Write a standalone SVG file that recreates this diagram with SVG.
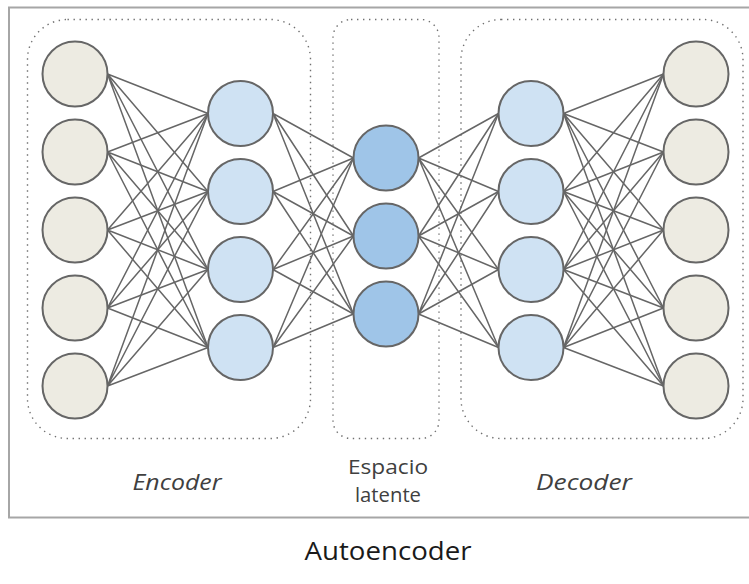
<svg xmlns="http://www.w3.org/2000/svg" width="749" height="584" viewBox="0 0 749 584">
  <style>
    .frame { fill: none; stroke: #a6a6a6; stroke-width: 2; }
    .group { fill: none; stroke: #707070; stroke-width: 1.4; stroke-dasharray: 1.4 4.6; }
    .edge { fill: none; stroke: #666; stroke-width: 1.5; }
    .node { stroke: #666; stroke-width: 2; }
    .io { fill: #edebe2; }
    .hidden { fill: #cfe2f3; }
    .latent { fill: #9fc5e8; }
    .label { font-family: "Open Sans", "Liberation Sans", sans-serif; fill: #404040; text-anchor: middle; }
  </style>

  <rect class="frame" x="9" y="7.5" width="760" height="510"/>

  <!-- dotted regions -->
  <rect class="group" x="27.5" y="19.5" width="283" height="419" rx="40"/>
  <rect class="group" x="333" y="19.5" width="106" height="419" rx="18"/>
  <rect class="group" x="461" y="19.5" width="282" height="419" rx="40"/>

  <g id="connectors">
    <path class="edge" d="M107.5 74L208 113.5M107.5 74L208 191.5M107.5 74L208 269.5M107.5 74L208 347.5"/>
    <path class="edge" d="M107.5 152L208 113.5M107.5 152L208 191.5M107.5 152L208 269.5M107.5 152L208 347.5"/>
    <path class="edge" d="M107.5 230L208 113.5M107.5 230L208 191.5M107.5 230L208 269.5M107.5 230L208 347.5"/>
    <path class="edge" d="M107.5 308L208 113.5M107.5 308L208 191.5M107.5 308L208 269.5M107.5 308L208 347.5"/>
    <path class="edge" d="M107.5 386L208 113.5M107.5 386L208 191.5M107.5 386L208 269.5M107.5 386L208 347.5"/>

    <path class="edge" d="M273 113.5L353.5 158M273 113.5L353.5 236M273 113.5L353.5 314"/>
    <path class="edge" d="M273 191.5L353.5 158M273 191.5L353.5 236M273 191.5L353.5 314"/>
    <path class="edge" d="M273 269.5L353.5 158M273 269.5L353.5 236M273 269.5L353.5 314"/>
    <path class="edge" d="M273 347.5L353.5 158M273 347.5L353.5 236M273 347.5L353.5 314"/>

    <path class="edge" d="M418.5 158L498.5 113.5M418.5 158L498.5 191.5M418.5 158L498.5 269.5M418.5 158L498.5 347.5"/>
    <path class="edge" d="M418.5 236L498.5 113.5M418.5 236L498.5 191.5M418.5 236L498.5 269.5M418.5 236L498.5 347.5"/>
    <path class="edge" d="M418.5 314L498.5 113.5M418.5 314L498.5 191.5M418.5 314L498.5 269.5M418.5 314L498.5 347.5"/>

    <path class="edge" d="M563.5 113.5L663.5 74M563.5 113.5L663.5 152M563.5 113.5L663.5 230M563.5 113.5L663.5 308M563.5 113.5L663.5 386"/>
    <path class="edge" d="M563.5 191.5L663.5 74M563.5 191.5L663.5 152M563.5 191.5L663.5 230M563.5 191.5L663.5 308M563.5 191.5L663.5 386"/>
    <path class="edge" d="M563.5 269.5L663.5 74M563.5 269.5L663.5 152M563.5 269.5L663.5 230M563.5 269.5L663.5 308M563.5 269.5L663.5 386"/>
    <path class="edge" d="M563.5 347.5L663.5 74M563.5 347.5L663.5 152M563.5 347.5L663.5 230M563.5 347.5L663.5 308M563.5 347.5L663.5 386"/>
  </g>

  <!-- input layer -->
  <g id="in1"><circle class="node io" cx="75" cy="74" r="32.5"/></g>
  <g id="in2"><circle class="node io" cx="75" cy="152" r="32.5"/></g>
  <g id="in3"><circle class="node io" cx="75" cy="230" r="32.5"/></g>
  <g id="in4"><circle class="node io" cx="75" cy="308" r="32.5"/></g>
  <g id="in5"><circle class="node io" cx="75" cy="386" r="32.5"/></g>

  <!-- encoder hidden layer -->
  <g id="enc1"><circle class="node hidden" cx="240.5" cy="113.5" r="32.5"/></g>
  <g id="enc2"><circle class="node hidden" cx="240.5" cy="191.5" r="32.5"/></g>
  <g id="enc3"><circle class="node hidden" cx="240.5" cy="269.5" r="32.5"/></g>
  <g id="enc4"><circle class="node hidden" cx="240.5" cy="347.5" r="32.5"/></g>

  <!-- latent space -->
  <g id="lat1"><circle class="node latent" cx="386" cy="158" r="32.5"/></g>
  <g id="lat2"><circle class="node latent" cx="386" cy="236" r="32.5"/></g>
  <g id="lat3"><circle class="node latent" cx="386" cy="314" r="32.5"/></g>

  <!-- decoder hidden layer -->
  <g id="dec1"><circle class="node hidden" cx="531" cy="113.5" r="32.5"/></g>
  <g id="dec2"><circle class="node hidden" cx="531" cy="191.5" r="32.5"/></g>
  <g id="dec3"><circle class="node hidden" cx="531" cy="269.5" r="32.5"/></g>
  <g id="dec4"><circle class="node hidden" cx="531" cy="347.5" r="32.5"/></g>

  <!-- output layer -->
  <g id="out1"><circle class="node io" cx="696" cy="74" r="32.5"/></g>
  <g id="out2"><circle class="node io" cx="696" cy="152" r="32.5"/></g>
  <g id="out3"><circle class="node io" cx="696" cy="230" r="32.5"/></g>
  <g id="out4"><circle class="node io" cx="696" cy="308" r="32.5"/></g>
  <g id="out5"><circle class="node io" cx="696" cy="386" r="32.5"/></g>

  <!-- labels -->
  <text class="label" x="177" y="490" font-size="21" font-style="italic" textLength="89" lengthAdjust="spacingAndGlyphs">Encoder</text>
  <text class="label" x="388" y="474" font-size="20" textLength="80" lengthAdjust="spacingAndGlyphs">Espacio</text>
  <text class="label" x="388" y="502" font-size="20" textLength="66" lengthAdjust="spacingAndGlyphs">latente</text>
  <text class="label" x="584" y="490" font-size="21" font-style="italic" textLength="96" lengthAdjust="spacingAndGlyphs">Decoder</text>
  <text class="label" x="388" y="560" font-size="25" style="fill:#1a1a1a" textLength="167" lengthAdjust="spacingAndGlyphs">Autoencoder</text>
</svg>
